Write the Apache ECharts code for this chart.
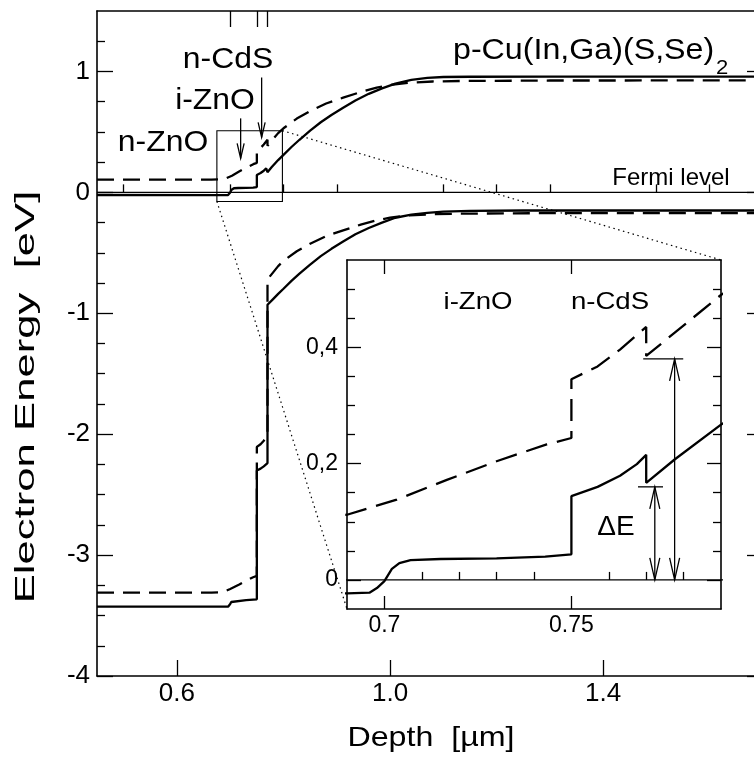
<!DOCTYPE html>
<html>
<head>
<meta charset="utf-8">
<script src="https://cdn.jsdelivr.net/npm/echarts@6/dist/echarts.min.js"></script>
<style>
  html, body { margin: 0; padding: 0; background: #fff; }
  #chart { width: 754px; height: 758px; }
</style>
</head>
<body>
<div id="chart"></div>
<script>
// band edges (depth in um, energy in eV)
var cbSolidX = [0.45, 0.690, 0.696, 0.698, 0.700, 0.702, 0.704, 0.707, 0.715, 0.730, 0.743, 0.750, 0.750, 0.757, 0.763, 0.7675, 0.770, 0.770, 0.7776, 0.790, 0.800, 0.815, 0.830, 0.850, 0.870, 0.890, 0.912, 0.935, 0.960, 0.985, 1.010, 1.040, 1.070, 1.100, 1.150, 1.300, 1.700];
var cbSolidY = [-0.022, -0.023, -0.022, -0.014, -0.002, 0.019, 0.029, 0.034, 0.036, 0.037, 0.040, 0.044, 0.144, 0.160, 0.179, 0.199, 0.215, 0.167, 0.207, 0.267, 0.310, 0.375, 0.435, 0.510, 0.580, 0.640, 0.700, 0.760, 0.815, 0.860, 0.900, 0.930, 0.947, 0.954, 0.956, 0.957, 0.957];

var cbDashX = [0.45, 0.665, 0.678, 0.690, 0.7033, 0.7167, 0.730, 0.7434, 0.750, 0.750, 0.757, 0.763, 0.770, 0.770, 0.790, 0.800, 0.825, 0.850, 0.880, 0.912, 0.945, 0.975, 1.000, 1.037, 1.080, 1.131, 1.300, 1.700];
var cbDashY = [0.105, 0.105, 0.107, 0.112, 0.138, 0.172, 0.204, 0.233, 0.244, 0.345, 0.367, 0.396, 0.435, 0.385, 0.490, 0.530, 0.610, 0.672, 0.735, 0.783, 0.830, 0.866, 0.888, 0.907, 0.917, 0.921, 0.925, 0.926];

var vbSolidX = [0.45, 0.696, 0.698, 0.700, 0.702, 0.705, 0.730, 0.750, 0.750, 0.757, 0.763, 0.770, 0.770, 0.780, 0.790, 0.800, 0.815, 0.830, 0.850, 0.870, 0.890, 0.912, 0.935, 0.960, 0.985, 1.010, 1.040, 1.070, 1.100, 1.150, 1.250, 1.700];
var vbSolidY = [-3.427, -3.427, -3.418, -3.405, -3.388, -3.376, -3.372, -3.366, -2.300, -2.285, -2.266, -2.239, -0.930, -0.885, -0.840, -0.797, -0.732, -0.672, -0.597, -0.527, -0.467, -0.407, -0.347, -0.295, -0.250, -0.210, -0.185, -0.170, -0.160, -0.153, -0.150, -0.150];

var vbDashX = [0.45, 0.665, 0.678, 0.690, 0.700, 0.717, 0.730, 0.743, 0.750, 0.750, 0.757, 0.763, 0.770, 0.770, 0.790, 0.800, 0.825, 0.850, 0.880, 0.912, 0.945, 0.975, 1.000, 1.037, 1.080, 1.131, 1.300, 1.700];
var vbDashY = [-3.311, -3.311, -3.309, -3.300, -3.280, -3.243, -3.212, -3.183, -3.172, -2.105, -2.083, -2.054, -2.015, -0.720, -0.610, -0.567, -0.487, -0.425, -0.362, -0.314, -0.267, -0.231, -0.209, -0.190, -0.180, -0.176, -0.172, -0.171];

var fermiX = [0.45, 1.70];
var fermiY = [0, 0];

// interfaces n-ZnO/i-ZnO, i-ZnO/CdS, CdS/CIGS
var interfaceDepths = [0.70, 0.75, 0.77];

// ticks
var mainXMajor = [0.6, 1.0, 1.4];
var mainXMinor = [0.5, 0.7, 0.8, 0.9, 1.1, 1.2, 1.3, 1.5, 1.6];
var mainYMajor = [-4, -3, -2, -1, 0, 1];
var mainYMinor = [-3.75, -3.5, -3.25, -2.75, -2.5, -2.25, -1.75, -1.5, -1.25, -0.75, -0.5, -0.25, 0.25, 0.5, 0.75, 1.25];
var insetXMajor = [0.70, 0.75];
var insetXMinor = [0.71, 0.72, 0.73, 0.74, 0.76, 0.77, 0.78];
var insetYMajor = [0, 0.2, 0.4];
var insetYMinor = [0.05, 0.1, 0.15, 0.25, 0.3, 0.35, 0.45, 0.5];

// zoomed box [x1, y1, x2, y2] and arrows [x, from, to]
var zoomBox = [0.675, -0.075, 0.798, 0.51];
var layerArrows = [[0.7196, 0.612, 0.281], [0.759, 0.950, 0.455]];
var offsetArrows = [[0.7723, 0.16, 0], [0.7776, 0.38, 0]];
var offsetBars = [[0.7678, 0.7745, 0.16], [0.7692, 0.7799, 0.38]];

var font = "'Liberation Sans', Arial, Helvetica, sans-serif";

function pairs(xs, ys) {
	return xs.map(function (x, i) { return [x, ys[i]]; });
}

function axis(opt) {
	return Object.assign({
		type: 'value',
		splitLine: {show: false},
		axisLine: {show: false},
		axisTick: {show: false},
		axisLabel: {show: false}
	}, opt);
}
function ticks(values, len) {
	return {show: true, inside: true, length: len, customValues: values, lineStyle: {color: '#000', width: 1.3}};
}
var border = {show: true, onZero: false, lineStyle: {color: '#000', width: 1.6}};

function band(xs, ys, dash, xi, yi, width) {
	return {
		type: 'line',
		xAxisIndex: xi, yAxisIndex: yi,
		data: pairs(xs, ys),
		symbol: 'none',
		silent: true,
		z: 3,
		lineStyle: {color: '#000', width: width, type: dash || 'solid', cap: 'butt'}
	};
}

function arrowRenderer(headLen, headHalf, twoHeads) {
	return function (params, api) {
		var a = api.coord([api.value(0), api.value(1)]);
		var b = api.coord([api.value(0), api.value(2)]);
		var st = {stroke: '#000', lineWidth: 1.3, fill: null};
		var dir = b[1] > a[1] ? 1 : -1;
		var kids = [
			{type: 'line', shape: {x1: a[0], y1: a[1], x2: b[0], y2: b[1]}, style: st},
			{type: 'polyline', shape: {points: [[b[0] - headHalf, b[1] - dir * headLen], [b[0], b[1]], [b[0] + headHalf, b[1] - dir * headLen]]}, style: st}
		];
		if (twoHeads) {
			kids.push({type: 'polyline', shape: {points: [[a[0] - headHalf, a[1] + dir * headLen], [a[0], a[1]], [a[0] + headHalf, a[1] + dir * headLen]]}, style: st});
		}
		return {type: 'group', children: kids};
	};
}

function label(text, x, y, size, sx, extra) {
	return Object.assign({
		type: 'text', x: x, y: y, scaleX: sx || 1, silent: true, z: 50,
		style: {text: text, fontSize: size, fontFamily: font, fill: '#000',
			align: 'center', verticalAlign: 'middle', textAlign: 'center', textVerticalAlign: 'middle'}
	}, extra || {});
}

var texts = [
	label('n-ZnO', 163, 143, 29, 1.1),
	label('i-ZnO', 215, 101, 29, 1.1),
	label('n-CdS', 228, 60, 29, 1.1),
	label('p-Cu(In,Ga)(S,Se)', 453, 51, 29, 1.11),
	label('2', 716, 68, 21, 1.05),
	label('Fermi level', 671, 178, 24, 1.0),
	label('i-ZnO', 478, 302, 24, 1.15),
	label('n-CdS', 610, 302, 24, 1.15),
	label('\u0394E', 616, 527, 28, 1.0),
	label('Depth  [\u00b5m]', 431, 738, 28, 1.15),
	label('Electron Energy  [eV]', 26, 397, 28, 1.56, {rotation: Math.PI / 2})
];
['p-Cu(In,Ga)(S,Se)', '2'].forEach(function (t) {
	texts.forEach(function (g) {
		if (g.style.text === t) { g.style.align = 'left'; g.style.textAlign = 'left'; }
	});
});

var chart = echarts.init(document.getElementById('chart'), null, {renderer: 'canvas'});

var option = {
	animation: false,
	backgroundColor: '#fff',
	grid: [
		{left: 97, top: 11, width: 666, height: 665, outerBoundsMode: 'none', containLabel: false},
		{left: 347, top: 260, width: 374, height: 349, outerBoundsMode: 'none', containLabel: false,
			show: true, backgroundColor: '#fff', borderWidth: 0}
	],
	xAxis: [
		axis({gridIndex: 0, min: 0.45, max: 1.7, position: 'bottom', axisLine: border,
			axisTick: ticks(mainXMajor, 16),
			axisLabel: {show: true, customValues: mainXMajor, margin: 5, color: '#000', fontSize: 26, fontFamily: font,
				formatter: function (v) { return v.toFixed(1); }}}),
		axis({gridIndex: 0, min: 0.45, max: 1.7, position: 'bottom', axisTick: ticks(mainXMinor, 8)}),
		axis({gridIndex: 0, min: 0.45, max: 1.7, position: 'top', axisLine: border, axisTick: ticks(interfaceDepths, 16)}),
		axis({gridIndex: 1, min: 0.69, max: 0.79, position: 'bottom', axisLine: border,
			axisTick: ticks(insetXMajor, 13),
			axisLabel: {show: true, customValues: insetXMajor, margin: 5, color: '#000', fontSize: 23, fontFamily: font,
				formatter: function (v) { return String(+v.toFixed(2)); }}}),
		axis({gridIndex: 1, min: 0.69, max: 0.79, position: 'bottom', axisTick: ticks(insetXMinor, 8)}),
		axis({gridIndex: 1, min: 0.69, max: 0.79, position: 'top', axisLine: border, axisTick: ticks(insetXMajor, 14)})
	],
	yAxis: [
		axis({gridIndex: 0, min: -4, max: 1.5, position: 'left', axisLine: border,
			axisTick: ticks(mainYMajor, 16),
			axisLabel: {show: true, customValues: mainYMajor, margin: 7, color: '#000', fontSize: 26, fontFamily: font}}),
		axis({gridIndex: 0, min: -4, max: 1.5, position: 'left', axisTick: ticks(mainYMinor, 8)}),
		axis({gridIndex: 0, min: -4, max: 1.5, position: 'right', axisLine: border, axisTick: ticks(mainYMajor, 16)}),
		axis({gridIndex: 1, min: -0.05, max: 0.55, position: 'left', axisLine: border,
			axisTick: ticks(insetYMajor, 14),
			axisLabel: {show: true, customValues: insetYMajor, margin: 9, color: '#000', fontSize: 23, fontFamily: font,
				formatter: function (v) { return String(+v.toFixed(2)).replace('.', ','); }}}),
		axis({gridIndex: 1, min: -0.05, max: 0.55, position: 'left', axisTick: ticks(insetYMinor, 8)}),
		axis({gridIndex: 1, min: -0.05, max: 0.55, position: 'right', axisLine: border, axisTick: ticks(insetYMajor, 14)}),
		axis({gridIndex: 1, min: -0.05, max: 0.55, position: 'right', axisTick: ticks(insetYMinor, 8)})
	],
	series: [
		band(cbSolidX, cbSolidY, null, 0, 0, 2.3),
		band(cbDashX, cbDashY, [17, 9], 0, 0, 2.3),
		band(vbSolidX, vbSolidY, null, 0, 0, 2.3),
		band(vbDashX, vbDashY, [17, 9], 0, 0, 2.3),
		band(fermiX, fermiY, null, 0, 0, 1.2),
		band(cbSolidX, cbSolidY, null, 3, 3, 2.3),
		band(cbDashX, cbDashY, [22, 10], 3, 3, 2.3),
		band(fermiX, fermiY, null, 3, 3, 1.2),
		{
			type: 'custom', xAxisIndex: 0, yAxisIndex: 0, silent: true, clip: false, z: 4,
			data: [zoomBox],
			renderItem: function (params, api) {
				var p1 = api.coord([api.value(0), api.value(3)]);
				var p2 = api.coord([api.value(2), api.value(1)]);
				return {type: 'rect', shape: {x: p1[0], y: p1[1], width: p2[0] - p1[0], height: p2[1] - p1[1]},
					style: {stroke: '#000', lineWidth: 1.1, fill: null}};
			}
		},
		{
			type: 'custom', xAxisIndex: 0, yAxisIndex: 0, silent: true, clip: false, z: 4,
			data: layerArrows, renderItem: arrowRenderer(15, 3.5, false)
		},
		{
			type: 'custom', xAxisIndex: 3, yAxisIndex: 3, silent: true, clip: false, z: 4,
			data: offsetArrows, renderItem: arrowRenderer(22, 5, true)
		},
		{
			type: 'custom', xAxisIndex: 3, yAxisIndex: 3, silent: true, clip: false, z: 4,
			data: offsetBars,
			renderItem: function (params, api) {
				var a = api.coord([api.value(0), api.value(2)]);
				var b = api.coord([api.value(1), api.value(2)]);
				return {type: 'line', shape: {x1: a[0], y1: a[1], x2: b[0], y2: b[1]}, style: {stroke: '#000', lineWidth: 1.3}};
			}
		}
	],
	graphic: {elements: texts}
};
chart.setOption(option);

// dotted lines joining the zoom box to the inset corners
var boxTR = chart.convertToPixel({seriesIndex: 0}, [zoomBox[2], zoomBox[3]]);
var boxBL = chart.convertToPixel({seriesIndex: 0}, [zoomBox[0], zoomBox[1]]);
var insTR = chart.convertToPixel({seriesIndex: 5}, [0.79, 0.55]);
var insBL = chart.convertToPixel({seriesIndex: 5}, [0.69, -0.05]);
var dotted = {stroke: '#000', lineWidth: 1.2, lineDash: [1.5, 3.5]};
chart.setOption({graphic: {elements: texts.concat([
	{type: 'line', silent: true, z: 1, shape: {x1: boxTR[0], y1: boxTR[1], x2: insTR[0], y2: insTR[1]}, style: dotted},
	{type: 'line', silent: true, z: 1, shape: {x1: boxBL[0], y1: boxBL[1], x2: insBL[0], y2: insBL[1]}, style: dotted}
])}});
</script>
</body>
</html>
